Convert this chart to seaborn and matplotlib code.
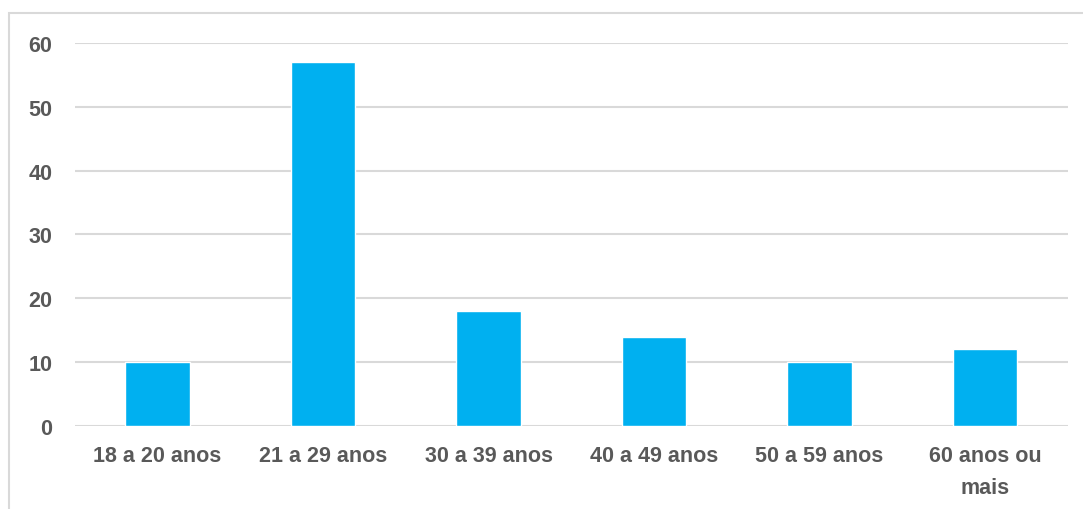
import matplotlib
matplotlib.use("Agg")
import matplotlib.pyplot as plt
import seaborn as sns
import pandas as pd
from matplotlib.patches import Rectangle

# Faixas etárias e contagens
categorias = ["18 a 20 anos", "21 a 29 anos", "30 a 39 anos",
              "40 a 49 anos", "50 a 59 anos", "60 anos ou\nmais"]
valores = [10, 57, 18, 14, 10, 12]
yticks = [0, 10, 20, 30, 40, 50, 60]

BAR_COLOR = "#00B0F0"
TEXT_COLOR = "#595959"
GRID_COLOR = "#D9D9D9"

sns.set_style("white")
plt.rcParams['font.family'] = ['Liberation Sans', 'DejaVu Sans']

df = pd.DataFrame({"faixa": categorias, "n": valores})

fig = plt.figure(figsize=(10.83, 5.10), dpi=100)
ax = fig.add_axes([0.069, 0.163, 0.917, 0.751])

# moldura cinza clara em volta do gráfico
fig.patches.append(Rectangle((9 / 1083, -0.05), 1.2, 1 - 14 / 510 + 0.05,
                             transform=fig.transFigure, fill=False,
                             edgecolor="#D9D9D9", linewidth=1.5, zorder=0))

sns.barplot(data=df, x="faixa", y="n", color=BAR_COLOR, width=0.39,
            saturation=1, ax=ax, zorder=3)

ax.set_ylim(0, 60)
ax.set_yticks(yticks)
ax.set_xlim(-0.5, len(categorias) - 0.5)
ax.yaxis.grid(True, color=GRID_COLOR, linewidth=1.5, zorder=0)
ax.set_axisbelow(True)
for s in ax.spines.values():
    s.set_visible(False)

ax.set_xlabel("")
ax.set_ylabel("")
ax.tick_params(axis="both", length=0, labelsize=15.5, labelcolor=TEXT_COLOR)
ax.tick_params(axis="y", pad=16)
ax.tick_params(axis="x", pad=14)
for lbl in ax.get_xticklabels() + ax.get_yticklabels():
    lbl.set_fontweight("bold")
for lbl in ax.get_xticklabels():
    lbl.set_linespacing(1.65)

fig.savefig("out.png", dpi=100)
